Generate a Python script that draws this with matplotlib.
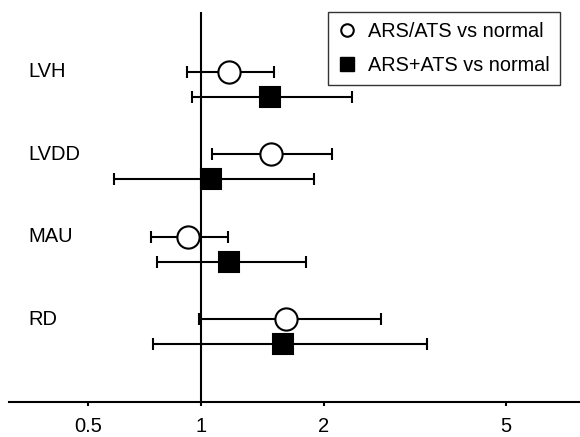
import matplotlib
matplotlib.use('Agg')
import matplotlib.pyplot as plt
from matplotlib.lines import Line2D
import numpy as np

plt.rcParams['font.family'] = ['Liberation Sans', 'DejaVu Sans']
plt.rcParams['font.size'] = 14.5

# Data (odds ratios with 95% CI)
outcomes = ['LVH', 'LVDD', 'MAU', 'RD']
ars_ats_or = [1.18, 1.50, 0.93, 1.63]
ars_ats_lo = [0.92, 1.07, 0.74, 0.99]
ars_ats_hi = [1.52, 2.09, 1.17, 2.70]
combined_or = [1.49, 1.06, 1.18, 1.60]
combined_lo = [0.95, 0.59, 0.77, 0.75]
combined_hi = [2.32, 1.90, 1.82, 3.41]

x_ticks = [0.5, 1, 2, 5]
x_ticklabels = ['0.5', '1', '2', '5']

# Axis is close to logarithmic but slightly stretched; a power scale fits it
P = 0.135


def fwd(x):
    return np.power(np.clip(x, 1e-9, None), P)


def inv(y):
    return np.power(np.clip(y, 1e-9, None), 1.0 / P)


def main():
    fig = plt.figure(figsize=(5.8, 4.37), dpi=100)
    ax = fig.add_axes([0.016, 0.081, 0.984, 0.892])

    y_groups = np.arange(len(outcomes), 0, -1).astype(float)
    y_sq = y_groups - 0.303

    ax.axvline(1, color='black', lw=1.5, zorder=1)

    for vals, lo, hi, ys, marker, face, ms in [
        (ars_ats_or, ars_ats_lo, ars_ats_hi, y_groups, 'o', 'white', 16),
        (combined_or, combined_lo, combined_hi, y_sq, 's', 'black', 14.8),
    ]:
        vals = np.array(vals)
        err = [vals - np.array(lo), np.array(hi) - vals]
        ax.errorbar(vals, ys, xerr=err, fmt=marker, mfc=face, mec='black',
                    mew=1.5, ms=ms, ecolor='black', elinewidth=1.5,
                    capsize=4, capthick=1.5, zorder=3)

    for lab, y in zip(outcomes, y_groups):
        ax.text(0.0335, y, lab, transform=ax.get_yaxis_transform(),
                ha='left', va='center', fontsize=14.5)

    ax.set_xscale('function', functions=(fwd, inv))
    ax.set_xlim(0.294, 7.06)
    ax.set_ylim(0, 4.73)
    ax.set_xticks(x_ticks)
    ax.set_xticklabels(x_ticklabels)
    ax.set_yticks([])
    ax.tick_params(axis='x', direction='out', length=3, width=1.5, pad=8,
                   labelsize=14.5)
    ax.minorticks_off()

    for side in ['left', 'top', 'right']:
        ax.spines[side].set_visible(False)
    ax.spines['bottom'].set_linewidth(1.5)

    handles = [
        Line2D([], [], ls='none', marker='o', mfc='white', mec='black',
               mew=1.5, ms=9),
        Line2D([], [], ls='none', marker='s', mfc='black', mec='black',
               mew=1, ms=10),
    ]
    leg = fig.legend(handles, ['ARS/ATS vs normal', 'ARS+ATS vs normal'],
                     loc='upper right', bbox_to_anchor=(560 / 580, 1 - 12 / 437),
                     bbox_transform=fig.transFigure, fancybox=False,
                     borderaxespad=0, borderpad=0.5, handlelength=1.0,
                     handletextpad=0.55, labelspacing=0.75, fontsize=14.3,
                     framealpha=1)
    leg.get_frame().set_edgecolor('#333333')
    leg.get_frame().set_linewidth(1.0)

    fig.savefig('out.png', dpi=100)
    plt.close(fig)


if __name__ == '__main__':
    main()
